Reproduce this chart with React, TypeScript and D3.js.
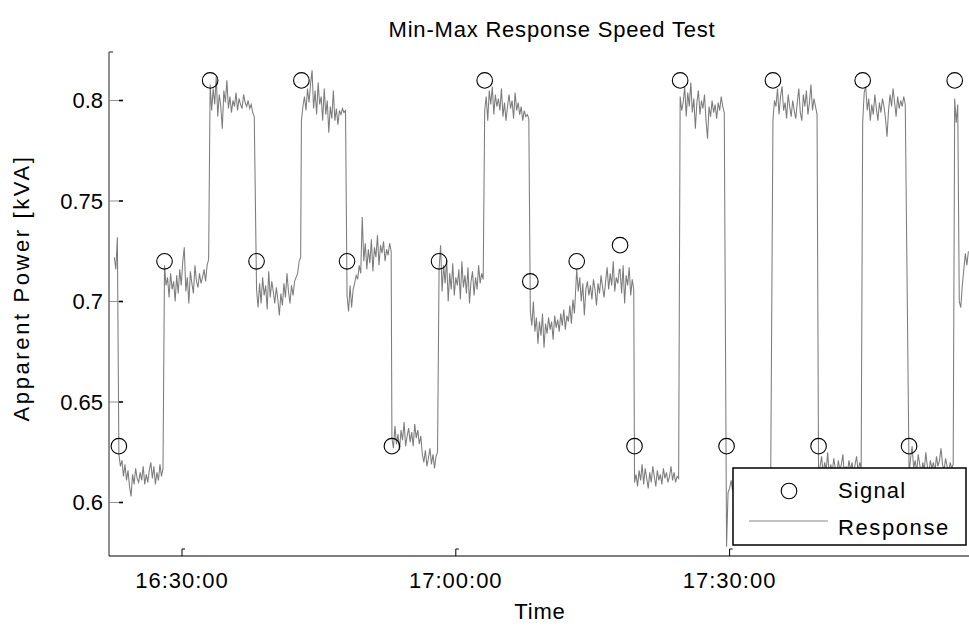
import React from "react";
import * as d3 from "d3";

// ---- data ----
const signalTimes = [
  "16:23:05", "16:28:05", "16:33:05", "16:38:10", "16:43:05", "16:48:05", "16:53:00",
  "16:58:10", "17:03:10", "17:08:10", "17:13:15", "17:18:00", "17:19:35", "17:24:35",
  "17:29:40", "17:34:45", "17:39:45", "17:44:35", "17:49:40", "17:54:40",
];
const signalValues = [
  0.628, 0.72, 0.81, 0.72, 0.81, 0.72, 0.628, 0.72, 0.81, 0.71, 0.72, 0.728, 0.628, 0.81,
  0.628, 0.81, 0.628, 0.81, 0.628, 0.81,
];

const sampleSeconds = 10;
const responseStarts = ["16:22:35", ...signalTimes];
const responseSegments: number[][] = [
  [0.722, 0.716, 0.732, 0.712],
  [0.624, 0.618, 0.621, 0.613, 0.619, 0.611, 0.616, 0.608, 0.603, 0.614, 0.609, 0.617, 0.612, 0.61, 0.615,
   0.611, 0.618, 0.609, 0.614, 0.61, 0.616, 0.62, 0.612, 0.618, 0.609, 0.615, 0.611, 0.619, 0.613, 0.617],
  [0.718, 0.708, 0.712, 0.702, 0.714, 0.706, 0.71, 0.7, 0.713, 0.704, 0.716, 0.708, 0.72, 0.727, 0.705,
   0.712, 0.699, 0.715, 0.709, 0.704, 0.718, 0.71, 0.707, 0.714, 0.709, 0.712, 0.716, 0.71, 0.718, 0.721],
  [0.808, 0.795, 0.806, 0.798, 0.812, 0.792, 0.803, 0.797, 0.786, 0.805, 0.799, 0.81, 0.796, 0.802, 0.794,
   0.8, 0.797, 0.804, 0.795, 0.801, 0.798, 0.796, 0.803, 0.799, 0.797, 0.8, 0.796, 0.798, 0.794, 0.792],
  [0.706, 0.697, 0.709, 0.699, 0.712, 0.703, 0.708, 0.696, 0.715, 0.702, 0.71, 0.705, 0.699, 0.707, 0.701,
   0.693, 0.704, 0.698, 0.709, 0.702, 0.714, 0.705, 0.699, 0.708, 0.703, 0.71, 0.712, 0.714, 0.72, 0.722],
  [0.79, 0.797, 0.802, 0.795, 0.806, 0.799, 0.808, 0.815, 0.796, 0.805, 0.793, 0.809, 0.798, 0.802, 0.79,
   0.806, 0.793, 0.8, 0.784, 0.797, 0.791, 0.805, 0.79, 0.796, 0.788, 0.795, 0.793, 0.796, 0.794, 0.795],
  [0.703, 0.695, 0.708, 0.697, 0.706, 0.709, 0.713, 0.711, 0.718, 0.714, 0.742, 0.72, 0.729, 0.716, 0.726,
   0.719, 0.731, 0.715, 0.727, 0.722, 0.733, 0.718, 0.728, 0.724, 0.73, 0.72, 0.726, 0.723, 0.729, 0.725],
  [0.632, 0.627, 0.638, 0.629, 0.634, 0.626, 0.636, 0.631, 0.64, 0.628, 0.633, 0.637, 0.63, 0.635, 0.628,
   0.639, 0.632, 0.636, 0.629, 0.633, 0.624, 0.62, 0.626, 0.618, 0.622, 0.627, 0.619, 0.624, 0.617, 0.623, 0.625],
  [0.716, 0.728, 0.705, 0.718, 0.709, 0.721, 0.7, 0.714, 0.706, 0.719, 0.703, 0.712, 0.708, 0.716, 0.701,
   0.72, 0.707, 0.713, 0.704, 0.717, 0.699, 0.71, 0.715, 0.703, 0.712, 0.706, 0.718, 0.709, 0.714, 0.711],
  [0.795, 0.802, 0.79, 0.805, 0.798, 0.807, 0.793, 0.803, 0.797, 0.801, 0.795, 0.806, 0.792, 0.799, 0.79,
   0.797, 0.803, 0.796, 0.8, 0.791, 0.804, 0.795, 0.799, 0.793, 0.797, 0.79, 0.795, 0.792, 0.793, 0.791],
  [0.695, 0.688, 0.7, 0.685, 0.692, 0.679, 0.69, 0.683, 0.694, 0.677, 0.689, 0.684, 0.692, 0.686, 0.69,
   0.681, 0.693, 0.687, 0.691, 0.685, 0.694, 0.688, 0.696, 0.686, 0.693, 0.69, 0.698, 0.689, 0.701, 0.694],
  [0.716, 0.705, 0.712, 0.7, 0.709, 0.693, 0.706, 0.71, 0.703, 0.708, 0.701, 0.711, 0.706, 0.698, 0.709,
   0.704, 0.713, 0.707, 0.702, 0.71, 0.717, 0.706, 0.714, 0.708, 0.72, 0.705, 0.712, 0.709, 0.716],
  [0.716, 0.704, 0.718, 0.699, 0.713, 0.708, 0.717, 0.703, 0.711, 0.706],
  [0.61, 0.614, 0.608, 0.616, 0.611, 0.619, 0.609, 0.617, 0.612, 0.607, 0.615, 0.61, 0.618, 0.613, 0.608,
   0.616, 0.611, 0.614, 0.609, 0.617, 0.612, 0.615, 0.61, 0.613, 0.618, 0.611, 0.615, 0.61, 0.613, 0.612],
  [0.802, 0.795, 0.799, 0.807, 0.792, 0.804, 0.797, 0.809, 0.794, 0.801, 0.786, 0.799, 0.805, 0.793, 0.8,
   0.796, 0.803, 0.79, 0.781, 0.797, 0.792, 0.8, 0.794, 0.798, 0.791, 0.799, 0.795, 0.802, 0.797, 0.794],
  [0.578, 0.605, 0.607, 0.611, 0.606, 0.612, 0.608, 0.614, 0.609, 0.611, 0.607, 0.613, 0.61, 0.608, 0.612,
   0.606, 0.611, 0.609, 0.613, 0.607, 0.61, 0.612, 0.608, 0.614, 0.609, 0.611, 0.607, 0.612, 0.61, 0.609],
  [0.79, 0.8, 0.797, 0.806, 0.793, 0.802, 0.807, 0.795, 0.799, 0.791, 0.803, 0.797, 0.792, 0.8, 0.795,
   0.791, 0.799, 0.806, 0.794, 0.79, 0.803, 0.797, 0.805, 0.793, 0.799, 0.808, 0.795, 0.801, 0.797, 0.793],
  [0.612, 0.618, 0.623, 0.614, 0.62, 0.616, 0.625, 0.613, 0.619, 0.615, 0.622, 0.617, 0.614, 0.621, 0.616,
   0.619, 0.624, 0.613, 0.618, 0.615, 0.621, 0.616, 0.62, 0.614, 0.619, 0.623, 0.615, 0.62, 0.617, 0.622],
  [0.789, 0.804, 0.807, 0.795, 0.801, 0.79, 0.798, 0.793, 0.803, 0.796, 0.79, 0.799, 0.794, 0.801, 0.797,
   0.791, 0.782, 0.795, 0.803, 0.797, 0.806, 0.799, 0.792, 0.802, 0.796, 0.8, 0.797, 0.802, 0.798],
  [0.614, 0.622, 0.628, 0.617, 0.621, 0.615, 0.624, 0.619, 0.613, 0.62, 0.616, 0.625, 0.618, 0.614, 0.621,
   0.617, 0.62, 0.615, 0.623, 0.618, 0.621, 0.627, 0.619, 0.616, 0.622, 0.618, 0.614, 0.62, 0.617, 0.619],
  [0.801, 0.789, 0.798, 0.7, 0.697, 0.708, 0.716, 0.724, 0.718, 0.725],
];

const yTicks = [0.6, 0.65, 0.7, 0.75, 0.8];
const xTicks = ["16:30:00", "17:00:00", "17:30:00"];
const xDomain = ["16:22:00", "17:56:14"];
const yDomain = [0.57338, 0.82413];

const parse = d3.timeParse("%H:%M:%S");
const FONT = "'Liberation Sans', Arial, sans-serif";

export default function App() {
  const left = 109, right = 969, top = 52, bottom = 556;
  const x = d3.scaleTime().domain(xDomain.map((s) => parse(s) as Date)).range([left, right]);
  const y = d3.scaleLinear().domain(yDomain).range([bottom, top]);

  const points: [Date, number][] = [];
  responseSegments.forEach((vals, i) => {
    const start = (parse(responseStarts[i]) as Date).getTime();
    const next = i + 1 < responseStarts.length ? (parse(responseStarts[i + 1]) as Date).getTime() : Infinity;
    vals.forEach((v, j) => {
      const t = start + j * sampleSeconds * 1000;
      if (t < next) points.push([new Date(t), v]);
    });
  });
  const line = d3
    .line<[Date, number]>()
    .x((d) => x(d[0]))
    .y((d) => y(d[1]));

  return (
    <svg
      width={969}
      height={626}
      style={{ position: "absolute", left: 0, top: 0, background: "#fff" }}
      fontFamily={FONT}
    >
      <rect x={0} y={0} width={969} height={626} fill="#fff" />
      <defs>
        <clipPath id="plot">
          <rect x={left} y={top} width={right - left} height={bottom - top} />
        </clipPath>
      </defs>
      <text x={552} y={37} fontSize={22} textAnchor="middle" letterSpacing={0.8} fill="#000">
        Min-Max Response Speed Test
      </text>

      {/* axes */}
      <path d={`M${left},${bottom}V${top}H${left + 4}`} fill="none" stroke="#222" strokeWidth={1} />
      <line x1={left} y1={bottom} x2={right} y2={bottom} stroke="#000" strokeWidth={1.2} />
      {yTicks.map((t) => (
        <g key={t}>
          <line x1={left} x2={left + 10} y1={y(t)} y2={y(t)} stroke="#777" strokeWidth={0.8} />
          <line x1={left + 10} x2={left + 14} y1={y(t)} y2={y(t)} stroke="#000" strokeWidth={1.6} />
          <text x={103} y={y(t)} dy="0.36em" fontSize={22} textAnchor="end" fill="#000">
            {String(t)}
          </text>
        </g>
      ))}
      {xTicks.map((s) => {
        const xx = x(parse(s) as Date);
        return (
          <g key={s}>
            <path d={`M${xx},${bottom}V${bottom - 7}H${xx + 3}`} fill="none" stroke="#000" strokeWidth={1} />
            <text x={xx} y={588} fontSize={22} textAnchor="middle" letterSpacing={1} fill="#000">
              {s}
            </text>
          </g>
        );
      })}
      <text x={540} y={619} fontSize={22} textAnchor="middle" letterSpacing={0.8} fill="#000">
        Time
      </text>
      <text
        transform="translate(29,288) rotate(-90)"
        fontSize={22}
        textAnchor="middle"
        letterSpacing={2.6}
        fill="#000"
      >
        Apparent Power [kVA]
      </text>

      {/* response */}
      <g clipPath="url(#plot)">
        <path d={line(points) ?? ""} fill="none" stroke="#7c7c7c" strokeWidth={1.05} />
        {signalTimes.map((s, i) => (
          <circle
            key={s}
            cx={x(parse(s) as Date)}
            cy={y(signalValues[i])}
            r={7.8}
            fill="none"
            stroke="#000"
            strokeWidth={1.1}
          />
        ))}
      </g>

      {/* legend */}
      <rect x={733} y={468} width={233} height={77} fill="#fff" stroke="#000" strokeWidth={1.5} />
      <circle cx={789} cy={491} r={7.8} fill="none" stroke="#000" strokeWidth={1.1} />
      <text x={838} y={498} fontSize={22} letterSpacing={1.2} fill="#000">
        Signal
      </text>
      <line x1={749} x2={828} y1={521} y2={521} stroke="#888" strokeWidth={1} />
      <text x={838} y={535} fontSize={22} letterSpacing={1.6} fill="#000">
        Response
      </text>
    </svg>
  );
}
